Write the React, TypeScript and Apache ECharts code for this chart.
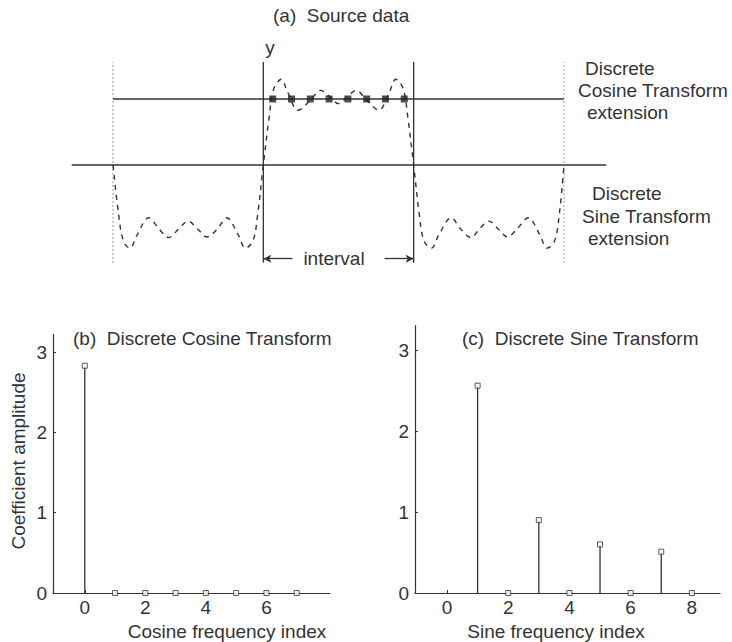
import React, { useEffect, useRef } from "react";
import * as echarts from "echarts";

// ---------- (a) source data ----------
const curveX = [
  -8, -7.7, -7.45, -7.1, -6.7, -6.1, -5.55, -5.05, -4.5, -4.0, -3.5, -3.0, -2.45, -1.95, -1.35, -0.95, -0.55, -0.3,
  0, 0.3, 0.55, 0.95, 1.3, 1.85, 2.5, 3.05, 3.55, 4.0, 4.45, 4.95, 5.5, 6.15, 6.7, 7.05, 7.45, 7.7,
  8, 8.3, 8.55, 8.95, 9.35, 10.0, 10.5, 11.05, 11.5, 12.0, 12.5, 13.0, 13.5, 14.1, 14.7, 15.1, 15.5, 15.75, 16,
];
const curveY = [
  0, -0.75, -1.15, -1.26, -1.05, -0.8, -0.97, -1.1, -0.97, -0.85, -0.97, -1.09, -0.97, -0.8, -1.05, -1.26, -1.15, -0.75,
  0, 0.7, 1.15, 1.3, 1.1, 0.83, 0.98, 1.13, 1.03, 0.93, 1.03, 1.13, 0.98, 0.83, 1.1, 1.3, 1.15, 0.7,
  0, -0.75, -1.15, -1.26, -1.05, -0.8, -0.97, -1.1, -0.97, -0.85, -0.97, -1.09, -0.97, -0.8, -1.05, -1.26, -1.15, -0.75, 0,
];
const sampleX = [0.5, 1.5, 2.5, 3.5, 4.5, 5.5, 6.5, 7.5];
const sampleY = [1, 1, 1, 1, 1, 1, 1, 1];
const intervalStart = 0;
const intervalEnd = 8;
const extLeft = -8;
const extRight = 16;
const cosineLevel = 1;
const topAxisSpan = [-10.2, 18.25];
const boundSpan = [-1.48, 1.56];
const arrowY = -1.42;
const arrowLen = 1.55;

// ---------- (b) DCT ----------
const dctIndex = [0, 1, 2, 3, 4, 5, 6, 7];
const dctValue = [2.83, 0, 0, 0, 0, 0, 0, 0];
const dctTicks = [0, 2, 4, 6];

// ---------- (c) DST ----------
const dstIndex = [1, 2, 3, 4, 5, 6, 7, 8];
const dstValue = [2.56, 0, 0.9, 0, 0.6, 0, 0.51, 0];
const dstTicks = [0, 2, 4, 6, 8];

const yTicks = [0, 1, 2, 3];

const INK = "#333";
const FONT = '"Liberation Sans", Arial, Helvetica, sans-serif';
const FS = 19;

function stemSeries(xi: number, xs: number[], vs: number[]) {
  return [
    {
      type: "custom",
      xAxisIndex: xi,
      yAxisIndex: xi,
      silent: true,
      data: xs.map((x, i) => [x, vs[i]]),
      renderItem: (_p: any, api: any) => {
        const a = api.coord([api.value(0), 0]);
        const b = api.coord([api.value(0), api.value(1)]);
        return {
          type: "line",
          shape: { x1: a[0], y1: a[1], x2: b[0], y2: b[1] },
          style: { stroke: INK, lineWidth: 1.3 },
        };
      },
      z: 3,
    },
    {
      type: "scatter",
      xAxisIndex: xi,
      yAxisIndex: xi,
      silent: true,
      symbol: "rect",
      symbolSize: 5,
      itemStyle: { color: "#fff", borderColor: INK, borderWidth: 1 },
      data: xs.map((x, i) => [x, vs[i]]),
      z: 5,
    },
  ];
}

function bottomX(gi: number, min: number, max: number, ticks: number[]) {
  return {
    type: "value",
    gridIndex: gi,
    min,
    max,
    splitLine: { show: false },
    axisLine: { show: true, onZero: false, lineStyle: { color: INK, width: 1.2 } },
    axisTick: { show: true, inside: true, length: 3, customValues: ticks, lineStyle: { color: INK } },
    axisLabel: { customValues: ticks, fontSize: FS, color: INK, fontFamily: FONT, margin: 5 },
  };
}
function bottomY(gi: number, max: number) {
  return {
    type: "value",
    gridIndex: gi,
    min: 0,
    max,
    splitLine: { show: false },
    axisLine: { show: true, onZero: false, lineStyle: { color: INK, width: 1.2 } },
    axisTick: { show: true, inside: true, length: 3, customValues: yTicks, lineStyle: { color: INK } },
    axisLabel: { customValues: yTicks, fontSize: FS, color: INK, fontFamily: FONT, margin: 6 },
  };
}

function txt(text: string, x: number, y: number, align = "left", extra: any = {}) {
  return {
    type: "text",
    x,
    y,
    silent: true,
    ...extra,
    style: {
      text,
      fill: INK,
      fontSize: FS,
      fontFamily: FONT,
      textAlign: align,
      textVerticalAlign: "middle",
    },
  };
}

export default function App() {
  const ref = useRef<HTMLDivElement>(null);
  useEffect(() => {
    if (!ref.current) return;
    const chart = echarts.init(ref.current, null, { renderer: "svg" });
    const option: any = {
      animation: false,
      backgroundColor: "#fff",
      grid: [
        { left: 71.66, width: 534.6, top: 36.3, height: 234.3 },
        { left: 53, width: 277, top: 334.4, height: 258.6 },
        { left: 415, width: 305, top: 325.7, height: 267.3 },
      ],
      xAxis: [
        { type: "value", gridIndex: 0, min: topAxisSpan[0], max: topAxisSpan[1], show: false },
        bottomX(1, -1.05, 8.1, dctTicks),
        bottomX(2, -1.046, 8.92, dstTicks),
      ],
      yAxis: [
        { type: "value", gridIndex: 0, min: -1.6, max: 1.95, show: false },
        bottomY(1, 3.22),
        bottomY(2, 3.3),
      ],
      series: [
        // zero axis of source panel
        {
          type: "line", xAxisIndex: 0, yAxisIndex: 0, silent: true, showSymbol: false,
          data: [[topAxisSpan[0], 0], [topAxisSpan[1], 0]],
          lineStyle: { color: INK, width: 1.3 },
        },
        // cosine extension level
        {
          type: "line", xAxisIndex: 0, yAxisIndex: 0, silent: true, showSymbol: false,
          data: [[extLeft, cosineLevel], [extRight, cosineLevel]],
          lineStyle: { color: INK, width: 1.3 },
        },
        // interval boundaries
        ...[intervalStart, intervalEnd].map((x) => ({
          type: "line", xAxisIndex: 0, yAxisIndex: 0, silent: true, showSymbol: false,
          data: [[x, boundSpan[0]], [x, boundSpan[1]]],
          lineStyle: { color: INK, width: 1.3 },
        })),
        // extension boundaries (dotted)
        ...[extLeft, extRight].map((x) => ({
          type: "line", xAxisIndex: 0, yAxisIndex: 0, silent: true, showSymbol: false,
          data: [[x, boundSpan[0]], [x, boundSpan[1]]],
          lineStyle: { color: "#777", width: 1, type: [1.5, 2.5] },
        })),
        // dashed reconstructed curve
        {
          type: "line", xAxisIndex: 0, yAxisIndex: 0, silent: true, showSymbol: false,
          smooth: 0.35,
          clip: false,
          data: curveX.map((x, i) => [x, curveY[i]]),
          lineStyle: { color: INK, width: 1.4, type: [5, 5] },
          z: 4,
        },
        // samples
        {
          type: "scatter", xAxisIndex: 0, yAxisIndex: 0, silent: true,
          symbol: "rect", symbolSize: 7,
          itemStyle: { color: "#222" },
          data: sampleX.map((x, i) => [x, sampleY[i]]),
          z: 6,
        },
        // interval arrows
        {
          type: "line", xAxisIndex: 0, yAxisIndex: 0, silent: true, showSymbol: false, data: [],
          markLine: {
            silent: true,
            symbol: ["arrow", "none"],
            symbolSize: [6, 8],
            label: { show: false },
            lineStyle: { color: INK, width: 1.3, type: "solid" },
            data: [[{ coord: [intervalStart, arrowY] }, { coord: [intervalStart + arrowLen, arrowY] }]],
          },
        },
        {
          type: "line", xAxisIndex: 0, yAxisIndex: 0, silent: true, showSymbol: false, data: [],
          markLine: {
            silent: true,
            symbol: ["none", "arrow"],
            symbolSize: [6, 8],
            label: { show: false },
            lineStyle: { color: INK, width: 1.3, type: "solid" },
            data: [[{ coord: [intervalEnd - arrowLen, arrowY] }, { coord: [intervalEnd, arrowY] }]],
          },
        },
        ...stemSeries(1, dctIndex, dctValue),
        ...stemSeries(2, dstIndex, dstValue),
      ],
      graphic: [
        txt("(a)  Source data", 273, 15),
        txt("y", 270, 47, "center"),
        txt("interval", 334, 258, "center"),
        txt("Discrete", 585, 68),
        txt("Cosine Transform", 578, 90),
        txt("extension", 587, 112),
        txt("Discrete", 592, 193),
        txt("Sine Transform", 582, 216),
        txt("extension", 588, 238),
        txt("(b)  Discrete Cosine Transform", 73, 338),
        txt("(c)  Discrete Sine Transform", 462, 338),
        txt("Cosine frequency index", 227, 631, "center"),
        txt("Sine frequency index", 556, 631, "center"),
        txt("Coefficient amplitude", 18, 461, "center", { rotation: Math.PI / 2 }),
      ],
    };
    chart.setOption(option);
    return () => chart.dispose();
  }, []);
  return (
    <div
      ref={ref}
      style={{ position: "fixed", left: 0, top: 0, width: 732, height: 642, background: "#fff" }}
    />
  );
}
